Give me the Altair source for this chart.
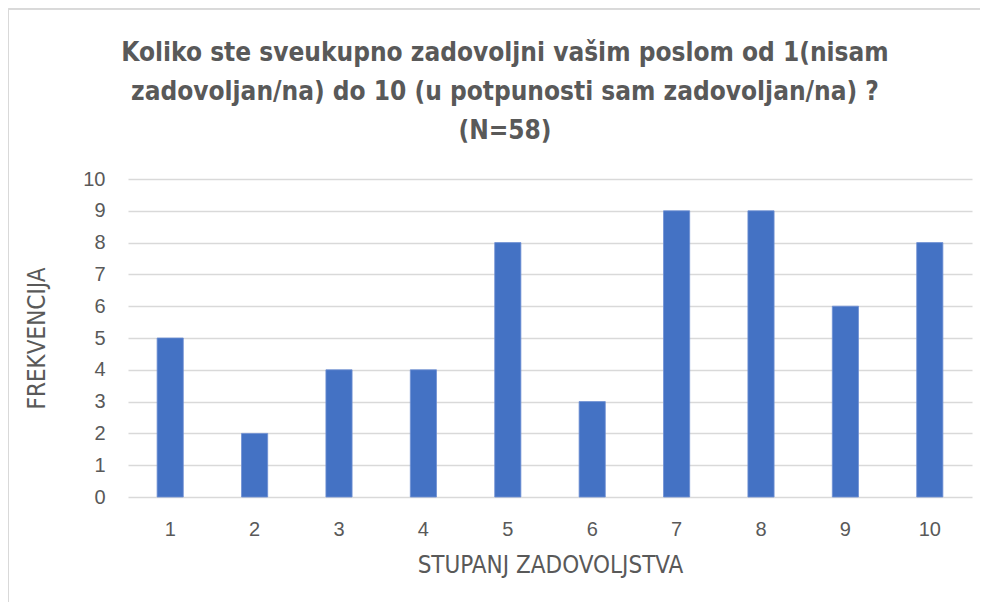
import altair as alt
import pandas as pd

categories = ["1", "2", "3", "4", "5", "6", "7", "8", "9", "10"]
frequencies = [5, 2, 4, 4, 8, 3, 9, 9, 6, 8]
y_ticks = [0, 1, 2, 3, 4, 5, 6, 7, 8, 9, 10]
title_lines = [
    "Koliko ste sveukupno zadovoljni vašim poslom od 1(nisam",
    "zadovoljan/na) do 10 (u potpunosti sam zadovoljan/na) ?",
    "(N=58)",
]
x_title = "STUPANJ ZADOVOLJSTVA"
y_title = "FREKVENCIJA"

df = pd.DataFrame({"stupanj": categories, "frekvencija": frequencies})

TEXT = "#595959"
NARROW = "Liberation Sans Narrow, DejaVu Sans Condensed, sans-serif"
REG = "Liberation Sans, Arial, sans-serif"

bars = alt.Chart(df).mark_bar(color="#4472C4", stroke="#6F8FD3", strokeWidth=0.8).encode(
    x=alt.X(
        "stupanj:N",
        sort=categories,
        scale=alt.Scale(paddingInner=0.69, paddingOuter=0.345),
        axis=alt.Axis(
            title=x_title,
            labelAngle=0,
            labelFont=REG,
            labelFontSize=20,
            labelColor=TEXT,
            labelPadding=22,
            titleFont=NARROW,
            titleFontSize=24,
            titleFontWeight="normal",
            titleColor=TEXT,
            titlePadding=14,
            domain=False,
            ticks=False,
            grid=False,
        ),
    ),
    y=alt.Y(
        "frekvencija:Q",
        scale=alt.Scale(domain=[0, 10], nice=False),
        axis=alt.Axis(
            title=y_title,
            values=y_ticks,
            labelFont=REG,
            labelFontSize=20,
            labelColor=TEXT,
            labelPadding=23,
            titleFont=NARROW,
            titleFontSize=24,
            titleFontWeight="normal",
            titleColor=TEXT,
            titlePadding=33,
            domain=False,
            ticks=False,
            grid=True,
            gridColor="#D9D9D9",
            gridWidth=1.5,
        ),
    ),
)

# chart-area frame (top and left edges; the others lie outside the picture)
frame_top = alt.Chart(df).mark_rule(color="#D9D9D9", strokeWidth=1).encode(
    x=alt.value(-119.5), x2=alt.value(860), y=alt.value(-170)
)
frame_left = alt.Chart(df).mark_rule(color="#D9D9D9", strokeWidth=1).encode(
    x=alt.value(-119.5), y=alt.value(-170), y2=alt.value(430)
)

chart = alt.layer(frame_top, frame_left, bars).properties(
    width=844,
    height=318,
    padding={"left": 120, "top": 171, "right": 8, "bottom": 105},
    autosize=alt.AutoSizeParams(type="none"),
    title=alt.TitleParams(
        text=title_lines,
        font=NARROW,
        fontSize=26,
        fontWeight="bold",
        color=TEXT,
        lineHeight=39,
        anchor="middle",
        frame="group",
        dx=-45,
        dy=170,
        offset=35,
    ),
).configure_view(stroke=None)

chart.save("out.html", embed_options={"renderer": "svg", "actions": False})
